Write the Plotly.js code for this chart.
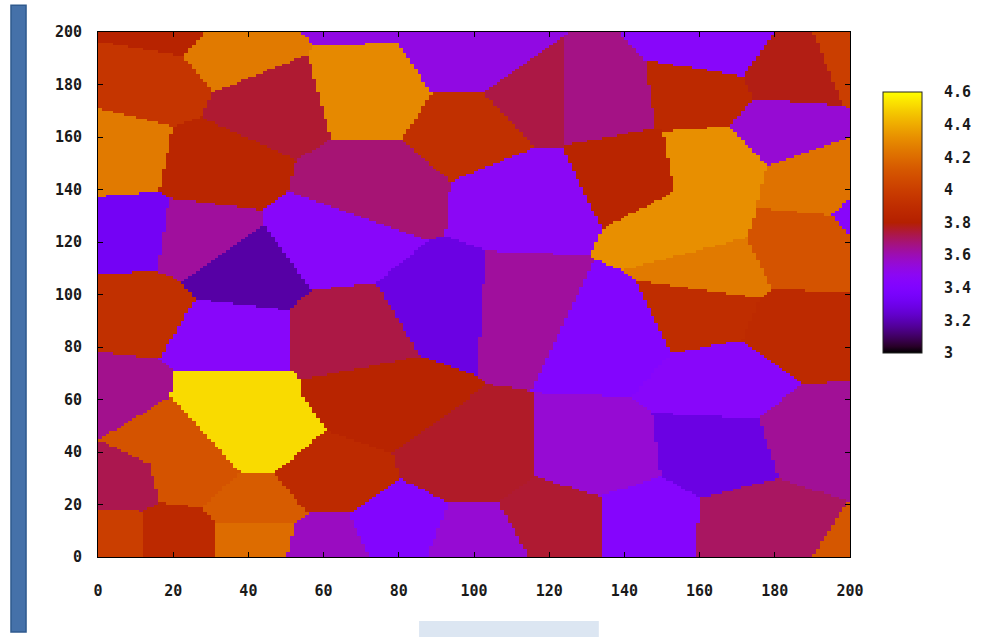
<!DOCTYPE html>
<html>
<head>
<meta charset="utf-8">
<script src="https://cdn.plot.ly/plotly-3.0.1.min.js"></script>
<style>body{margin:0;background:#fff;}#chart{width:992px;height:637px;}</style>
</head>
<body>
<div id="chart"></div>
<script>
// Grain seeds (x, y) and their values
const seedX = [15, 20, 34, 46, 72, 99, 100, 72, 31, 5, 62, 115, 8.5, 26, 38, 10, 34, 68, 92, 112, 136, 34, 42.6, 75, 16, 24.6, 4.5, 4.5, 60, 99, 42, 20, 3.7, 42, 60, 80, 99, 123, 144, 175, 209, 165, 191, 167, 160, 187, 133, 134, 164, 185, 203, 160, 115, 141, 163, 157, 183, 192, 188, 163, 210, 70];
const seedY = [182, 202, 193, 172, 177, 190, 164, 141, 149, 153, 121, 138, 123, 121, 109, 94, 84, 85, 95, 94, 86, 58, 44.5, 60, 46.6, 33.1, 60, 29, 30, 37, 19.5, 6.5, 6.5, 6.5, 3.4, 10, 4.5, 14, 14, 12, -3, 40, 46, 67, 94, 86, 37, 174, 194, 184, 189, 177, 174, 147, 150, 125, 163, 145, 117, 109, 131, 214];
const seedValue = [3.95, 3.82, 4.25, 3.75, 4.30, 3.52, 3.92, 3.68, 3.85, 4.25, 3.45, 3.47, 3.33, 3.63, 3.18, 3.92, 3.45, 3.73, 3.28, 3.63, 3.42, 4.52, 4.52, 3.83, 4.10, 4.10, 3.65, 3.72, 3.88, 3.76, 4.14, 3.87, 4.00, 4.20, 3.58, 3.42, 3.55, 3.75, 3.43, 3.70, 4.12, 3.28, 3.64, 3.45, 3.90, 3.88, 3.55, 3.66, 3.45, 3.78, 4.00, 3.87, 3.73, 3.84, 4.32, 4.32, 3.55, 4.22, 4.10, 4.25, 3.45, 3.52];
const xTicks = [0, 20, 40, 60, 80, 100, 120, 140, 160, 180, 200];
const yTicks = [0, 20, 40, 60, 80, 100, 120, 140, 160, 180, 200];
const cTicks = [3, 3.2, 3.4, 3.6, 3.8, 4, 4.2, 4.4, 4.6];

// grid cell centres
const gx = [], gy = [];
for (let i = 0; i < 200; i++) { gx.push(i + 0.5); gy.push(i + 0.5); }
const z = gy.map(y => gx.map(x => {
  let best = 0, bd = Infinity;
  for (let k = 0; k < seedX.length; k++) {
    const dx = x - seedX[k], dy = y - seedY[k];
    const d = dx * dx + dy * dy;
    if (d < bd) { bd = d; best = k; }
  }
  return seedValue[best];
}));

// gnuplot default palette (rgbformulae 7,5,15)
const colorscale = [];
for (let i = 0; i <= 40; i++) {
  const t = i / 40;
  const r = Math.round(255 * Math.sqrt(t));
  const g = Math.round(255 * Math.pow(t, 3));
  const b = Math.round(255 * Math.max(0, Math.sin(2 * Math.PI * t)));
  colorscale.push([t, `rgb(${r},${g},${b})`]);
}

const font = {family: 'DejaVu Sans Mono', size: 15, color: '#1a1a1a', weight: 'bold'};

const trace = {
  type: 'heatmap', x: gx, y: gy, z: z, zmin: 3, zmax: 4.6,
  colorscale: colorscale, zsmooth: false, hoverinfo: 'skip',
  colorbar: {
    x: 1.044, xanchor: 'left', xref: 'paper',
    y: 0.637, yanchor: 'middle', len: 0.497, lenmode: 'fraction',
    thickness: 39, thicknessmode: 'pixels',
    outlinewidth: 1, outlinecolor: '#222',
    tickvals: cTicks, ticktext: cTicks.map(String),
    ticks: 'outside', ticklen: 19, tickcolor: 'rgba(0,0,0,0)',
    tickfont: font, ypad: 0, xpad: 0
  }
};

const layout = {
  width: 992, height: 637,
  margin: {l: 98, r: 142, t: 32, b: 80},
  paper_bgcolor: '#fff', plot_bgcolor: '#fff',
  showlegend: false,
  xaxis: {range: [0, 200], tickvals: xTicks, ticktext: xTicks.map(String),
    ticks: 'inside', ticklen: 5, tickcolor: '#000', showline: true, mirror: 'ticks',
    linecolor: '#000', linewidth: 1, showgrid: false, zeroline: false, tickfont: font,
    ticklabelstandoff: 20},
  yaxis: {range: [0, 200], tickvals: yTicks, ticktext: yTicks.map(String),
    ticks: 'inside', ticklen: 5, tickcolor: '#000', showline: true, mirror: 'ticks',
    linecolor: '#000', linewidth: 1, showgrid: false, zeroline: false, tickfont: font,
    ticklabelstandoff: 12},
  shapes: [
    {type: 'rect', xref: 'paper', yref: 'paper', x0: -0.1157, x1: -0.0957, y0: -0.143, y1: 1.051,
     fillcolor: '#4571a9', line: {color: '#2f5a8e', width: 1.5}, layer: 'above'},
    {type: 'rect', xref: 'paper', yref: 'paper', x0: 0.427, x1: 0.666, y0: -0.16, y1: -0.122,
     fillcolor: '#dce6f2', line: {width: 0}, layer: 'above'}
  ]
};

Plotly.newPlot('chart', [trace], layout, {displayModeBar: false, staticPlot: true});
</script>
</body>
</html>
